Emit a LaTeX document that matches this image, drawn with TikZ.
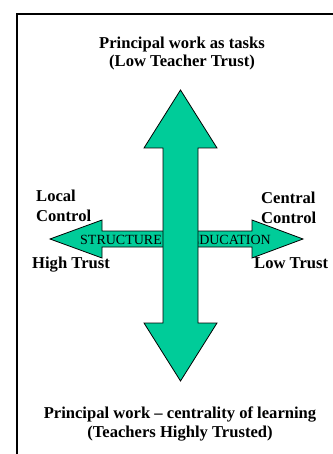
\documentclass[tikz,border=0pt]{standalone}
\usepackage{fontspec}
\setmainfont{Liberation Serif}
\definecolor{arrowgreen}{RGB}{0,204,153}
\tikzset{
  bigarrow/.style={fill=arrowgreen, draw=black, line width=0.8pt, line join=miter},
  title/.style={font=\bfseries\fontsize{16.6}{18.5}\selectfont, align=center, inner sep=0pt},
  sidelabel/.style={font=\bfseries\fontsize{16.6}{20}\selectfont, align=left, inner sep=0pt},
  axislabel/.style={font=\fontsize{14}{16}\selectfont, inner sep=0pt}
}
\begin{document}
\begin{tikzpicture}[x=1pt, y=-1pt]
    \useasboundingbox (0,0) rectangle (332,454);
    \draw[line width=1.6pt] (17,14) rectangle (345,470);

    % horizontal arrow, behind
    \filldraw[bigarrow] (50,239) -- (102,220) -- (102,231) -- (252,231) -- (252,220)
        -- (303,239) -- (252,258) -- (252,247) -- (102,247) -- (102,258) -- cycle;
    \node[axislabel, anchor=base west] (struct) at (80,244) {STRUCTURE};
    \node[axislabel, anchor=base west] (educ) at (190.5,244) {EDUCATION};

    % vertical arrow, on top
    \filldraw[bigarrow] (180.5,90) -- (217,148) -- (198,148) -- (198,323) -- (217,323)
        -- (180.5,381) -- (144,323) -- (163,323) -- (163,148) -- (144,148) -- cycle;

    \node[title, anchor=north] (tasks) at (182,36.5) {Principal work as tasks\\(Low Teacher Trust)};
    \node[title, anchor=north] (learning) at (180,407) {Principal work -- centrality of learning\\(Teachers Highly Trusted)};

    \node[sidelabel, anchor=north west] (local) at (36,190) {Local\\Control};
    \node[sidelabel, anchor=north west] (central) at (261,191.5) {Central\\Control};
    \node[sidelabel, anchor=north west] (high) at (32,257) {High Trust};
    \node[sidelabel, anchor=north west] (low) at (254,257) {Low Trust};
\end{tikzpicture}
\end{document}
